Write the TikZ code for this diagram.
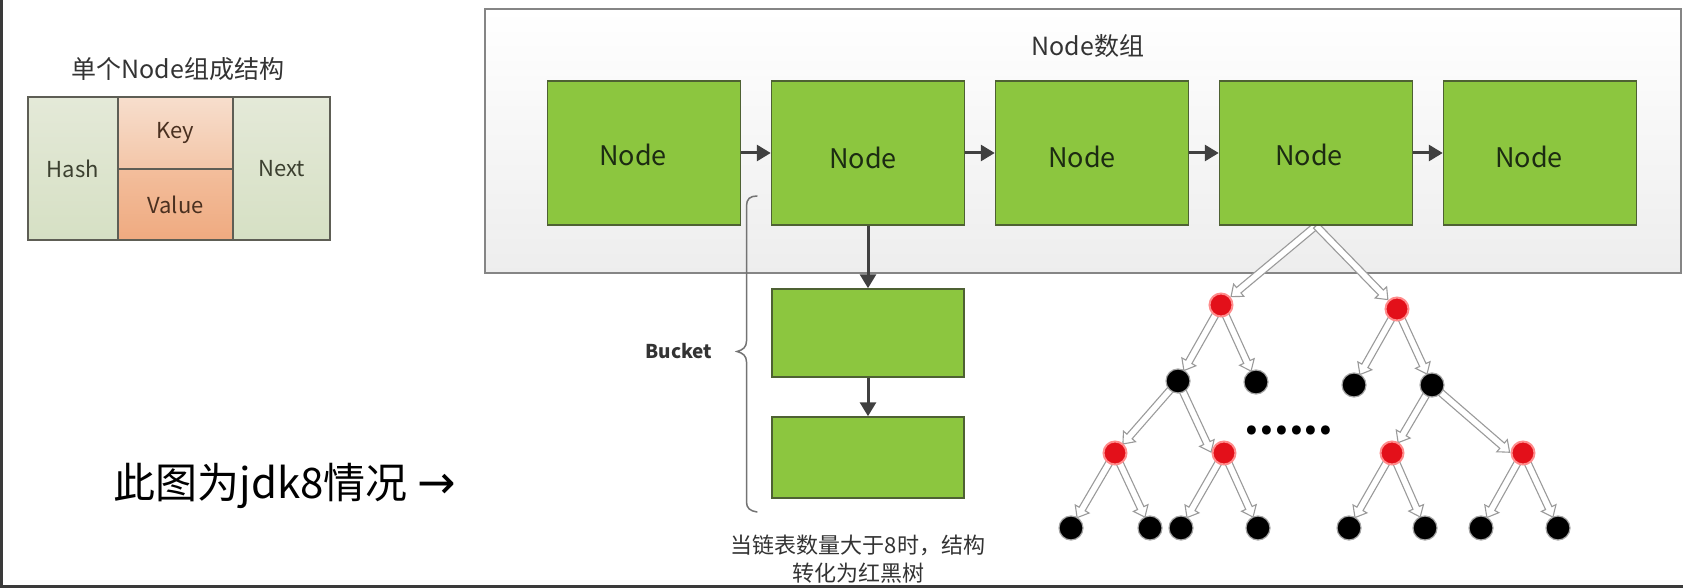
\documentclass[tikz,border=0pt]{standalone}
\usepackage{fontspec}
\setmainfont{Noto Sans CJK SC}
\newfontfamily\arrowfont{DejaVu Sans}
\usetikzlibrary{arrows.meta,calc}
\definecolor{nodegreen}{HTML}{8CC63F}
\definecolor{nodeborder}{HTML}{4E6133}
\definecolor{nodetext}{HTML}{1C2B12}
\definecolor{boxgray}{HTML}{858585}
\definecolor{darkarrow}{HTML}{404040}
\definecolor{cellborder}{HTML}{5E5E55}
\definecolor{rbred}{HTML}{E3101A}
\definecolor{hollowgray}{HTML}{9A9A9A}
\definecolor{txtgray}{HTML}{333333}
\definecolor{framecol}{HTML}{3A3A3A}
\definecolor{celltxt}{HTML}{3C4030}
\definecolor{kvtxt}{HTML}{4A3020}
\definecolor{HashTop}{HTML}{E4E9D8}
\definecolor{HashBot}{HTML}{D6E0C4}
\definecolor{KeyTop}{HTML}{F7DECD}
\definecolor{KeyBot}{HTML}{F3C6A8}
\definecolor{ValTop}{HTML}{F3BE9C}
\definecolor{ValBot}{HTML}{EFAA80}
\pgfdeclarelayer{back}
\pgfdeclarelayer{mid}
\pgfsetlayers{back,mid,main}
\tikzset{
  container/.style={draw=boxgray, line width=2pt, top color=white, bottom color=black!7, minimum width=1196pt, minimum height=264pt, inner sep=0pt},
  greennode/.style={draw=nodeborder, line width=1.5pt, fill=nodegreen, minimum width=193pt, minimum height=144pt, inner sep=0pt},
  bucketnode/.style={draw=nodeborder, line width=1.5pt, fill=nodegreen, minimum width=192pt, inner sep=0pt},
  nodelabel/.style={font=\fontsize{27}{30}\selectfont, text=nodetext},
  darrow/.style={draw=darkarrow, line width=3pt, -{Triangle[length=14pt,width=16pt]}},
  cell/.style={draw=cellborder, line width=1.5pt, inner sep=0pt, font=\fontsize{22}{24}\selectfont},
  hncell/.style={cell, top color=HashTop, bottom color=HashBot, text=celltxt, minimum width=#1, minimum height=143pt},
  rednode/.style={circle, fill=rbred, draw=red!45, line width=2pt, minimum size=23pt, inner sep=0pt},
  blacknode/.style={circle, fill=black, draw=black!35, line width=1.2pt, minimum size=24pt, inner sep=0pt},
  hollowarrow/.style={draw=hollowgray, fill=white, line width=1.1pt, line join=miter},
}
\newcommand\hollowconn[4]{%
  \path let \p1=(#1), \p2=(#2), \n1={atan2(\y2-\y1,\x2-\x1)}, \n2={veclen(\x2-\x1,\y2-\y1)} in
    \pgfextra{\xdef\hcAng{\n1}\xdef\hcLen{\n2}};
  \begin{scope}[shift={(#1)}, rotate=\hcAng]
    \path[hollowarrow] (#3pt,-3.5pt) -- ({\hcLen-#4pt-10pt},-3.5pt) -- ({\hcLen-#4pt-10pt},-8pt)
      -- ({\hcLen-#4pt},0pt) -- ({\hcLen-#4pt-10pt},8pt) -- ({\hcLen-#4pt-10pt},3.5pt) -- (#3pt,3.5pt) -- cycle;
  \end{scope}}
\begin{document}
\begin{tikzpicture}[x=1pt,y=-1pt]
\useasboundingbox (0,0) rectangle (1683,588);
% frame
\draw[framecol, line width=2.5pt] (1.25,0) -- (1.25,586.5) -- (1683,586.5);

% single node structure
\node[font=\fontsize{25}{28}\selectfont, text=txtgray] (title) at (178,69) {单个Node组成结构};
\node[hncell=90pt] (hash) at (73,168.5) {Hash};
\node[cell, top color=KeyTop, bottom color=KeyBot, text=kvtxt, minimum width=115pt, minimum height=72pt] (key) at (175.5,133) {Key};
\node[cell, top color=ValTop, bottom color=ValBot, text=kvtxt, minimum width=115pt, minimum height=71pt] (value) at (175.5,204.5) {Value};
\node[hncell=97pt] (next) at (281.5,168.5) {Next};

% node array container
\begin{pgfonlayer}{back}
\node[container] (arr) at (1083,141) {};
\end{pgfonlayer}
\node[font=\fontsize{25}{28}\selectfont, text=txtgray] (arrlabel) at (1088,46) {Node数组};

\node[greennode, label={[nodelabel,xshift=-11pt,yshift=-2pt]center:Node}] (n1) at (644,153) {};
\node[greennode, label={[nodelabel,xshift=-5pt,yshift=-5pt]center:Node}] (n2) at (868,153) {};
\node[greennode, label={[nodelabel,xshift=-10pt,yshift=-4pt]center:Node}] (n3) at (1092,153) {};
\node[greennode, label={[nodelabel,xshift=-7pt,yshift=-2pt]center:Node}] (n4) at (1316,153) {};
\node[greennode, label={[nodelabel,xshift=-11pt,yshift=-4pt]center:Node}] (n5) at (1540,153) {};
\draw[darrow] (n1) -- (n2);
\draw[darrow] (n2) -- (n3);
\draw[darrow] (n3) -- (n4);
\draw[darrow] (n4) -- (n5);

% bucket
\node[bucketnode, minimum height=88pt] (bk1) at (868,333) {};
\node[bucketnode, minimum height=81pt] (bk2) at (868,457.5) {};
\draw[darrow] (n2) -- (bk1);
\draw[darrow] (bk1) -- (bk2);
\draw[draw=black!55, line width=1.5pt, line cap=round]
  (757,196) .. controls (750,196) and (746.5,199) .. (746.5,206) -- (746.5,341)
  .. controls (746.5,347) and (743,350) .. (737,351.5)
  .. controls (743,353) and (746.5,356) .. (746.5,362) -- (746.5,502)
  .. controls (746.5,508) and (750,511) .. (757,512);
\node[font=\bfseries\fontsize{19}{22}\selectfont, text=txtgray] (bucketlbl) at (679,351) {Bucket};
\node[align=center, font=\fontsize{22}{28}\selectfont, text=txtgray] (cap) at (858,559) {当链表数量大于8时，结构\\转化为红黑树};

% note
\node[anchor=west, font=\fontsize{42}{46}\selectfont, text=black] (note) at (110,486) {此图为jdk8情况\hspace{10pt}{\arrowfont\fontsize{46}{48}\selectfont →}};

% red-black tree
\node[rednode] (r1) at (1221,305) {};
\node[rednode] (r2) at (1397,309) {};
\node[blacknode] (k1) at (1178,381) {};
\node[blacknode] (k2) at (1256,382) {};
\node[blacknode] (k3) at (1354,385) {};
\node[blacknode] (k4) at (1432,385) {};
\node[rednode] (r3) at (1115,453) {};
\node[rednode] (r4) at (1224,453) {};
\node[rednode] (r5) at (1392,453) {};
\node[rednode] (r6) at (1523,453) {};
\node[blacknode] (l1) at (1071,528) {};
\node[blacknode] (l2) at (1150,528) {};
\node[blacknode] (l3) at (1181,528) {};
\node[blacknode] (l4) at (1258,528) {};
\node[blacknode] (l5) at (1349,528) {};
\node[blacknode] (l6) at (1425,528) {};
\node[blacknode] (l7) at (1481,528) {};
\node[blacknode] (l8) at (1558,528) {};
\node[font=\bfseries\fontsize{42}{42}\selectfont, anchor=base] (dots) at (1289,434) {......};

\begin{pgfonlayer}{mid}
\hollowconn{n4.south}{r1}{0}{13}
\hollowconn{n4.south}{r2}{0}{13}
\hollowconn{r1}{k1}{0}{12}
\hollowconn{r1}{k2}{0}{12}
\hollowconn{r2}{k3}{0}{12}
\hollowconn{r2}{k4}{0}{12}
\hollowconn{k1}{r3}{0}{12}
\hollowconn{k1}{r4.west}{0}{1}
\hollowconn{k4}{r5}{0}{12}
\hollowconn{k4}{r6.west}{0}{1}
\hollowconn{r3}{l1}{0}{12}
\hollowconn{r3}{l2}{0}{12}
\hollowconn{r4}{l3}{0}{12}
\hollowconn{r4}{l4}{0}{12}
\hollowconn{r5}{l5}{0}{12}
\hollowconn{r5}{l6}{0}{12}
\hollowconn{r6}{l7}{0}{12}
\hollowconn{r6}{l8}{0}{12}
\end{pgfonlayer}
\end{tikzpicture}
\end{document}
